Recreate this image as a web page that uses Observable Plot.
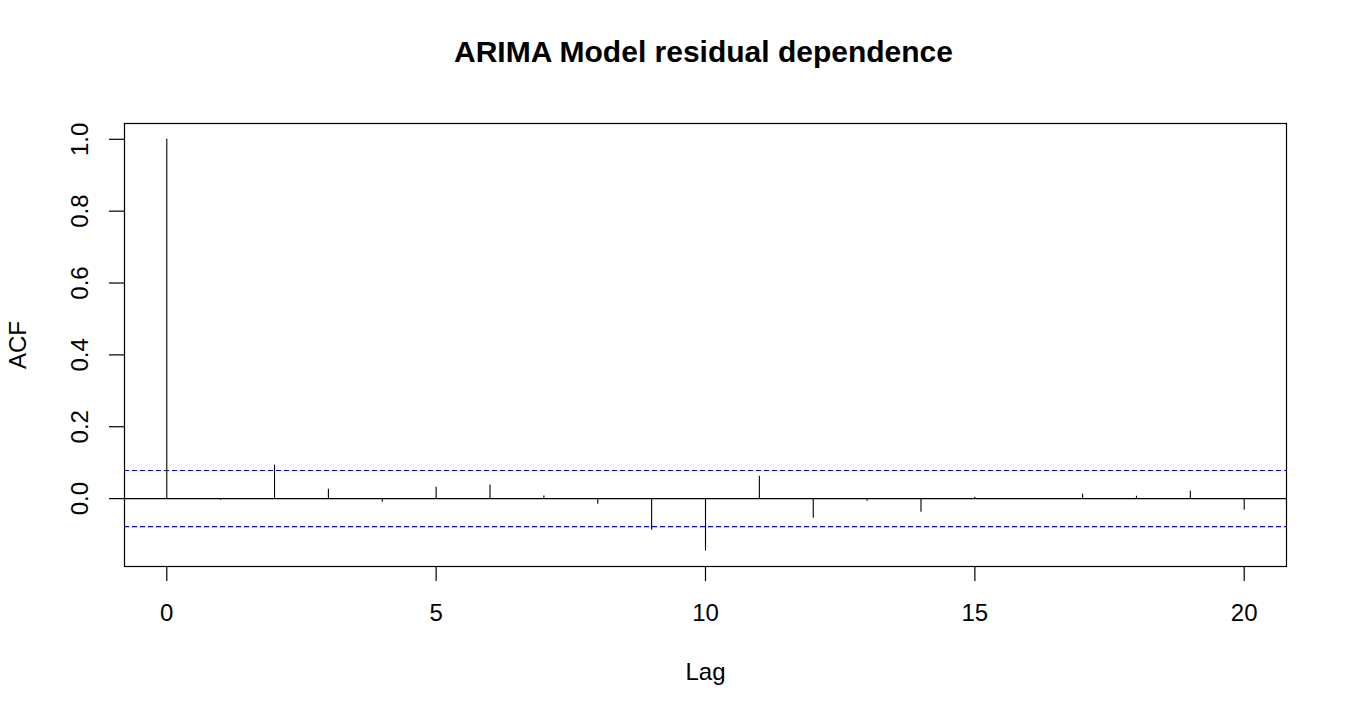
<!DOCTYPE html>
<html>
<head>
<meta charset="utf-8">
<script src="https://cdn.jsdelivr.net/npm/d3@7"></script>
<script src="https://cdn.jsdelivr.net/npm/@observablehq/plot@0.6"></script>
<style>
  html, body { margin: 0; padding: 0; background: #fff; }
  #chart svg { display: block; }
</style>
</head>
<body>
<div id="chart"></div>
<script>
// ---- data ----
const lags = [0, 1, 2, 3, 4, 5, 6, 7, 8, 9, 10, 11, 12, 13, 14, 15, 16, 17, 18, 19, 20];
const acfValues = [1.0, -0.0046, 0.093, 0.026, -0.010, 0.0316, 0.038, 0.0074, -0.016, -0.088, -0.146,
                   0.062, -0.055, -0.0074, -0.038, 0.0037, 0.0005, 0.012, 0.0065, 0.0204, -0.0325];
const ciBounds = [0.078, -0.078];
const xTicks = [0, 5, 10, 15, 20];
const yTicks = [0.0, 0.2, 0.4, 0.6, 0.8, 1.0];
const titleText = "ARIMA Model residual dependence";
const xLabel = "Lag";
const yLabel = "ACF";

const data = lags.map((l, i) => ({lag: l, acf: acfValues[i]}));
const font = "Liberation Sans, Arial, Helvetica, sans-serif";

const chart = Plot.plot({
  width: 1350,
  height: 720,
  marginLeft: 124,
  marginRight: 64,
  marginTop: 123,
  marginBottom: 154,
  style: {fontFamily: font, background: "#fff", color: "black"},
  x: {domain: [-0.785, 20.785]},
  y: {domain: [-0.189, 1.044]},
  marks: [
    Plot.ruleY(ciBounds, {y: d => d, stroke: "#0000ff", strokeWidth: 1.1, strokeDasharray: "5,3"}),
    Plot.ruleY([0], {stroke: "black", strokeWidth: 1.1}),
    Plot.ruleX(data, {x: "lag", y1: 0, y2: "acf", stroke: "black", strokeWidth: 1.1}),
    Plot.frame({stroke: "black", strokeWidth: 1.2}),
    Plot.axisX({ticks: xTicks, tickSize: 15, tickFormat: () => "", label: null, stroke: "black", strokeWidth: 1.2}),
    Plot.axisY({ticks: yTicks, tickSize: 15, tickFormat: () => "", label: null, stroke: "black", strokeWidth: 1.2}),
    Plot.text(xTicks, {x: d => d, frameAnchor: "bottom", dy: 47, lineAnchor: "middle", text: d => String(d), fontSize: 24, fill: "black"}),
    Plot.text(yTicks, {y: d => d, frameAnchor: "left", dx: -44, rotate: -90, lineAnchor: "middle", textAnchor: "middle", text: d => d.toFixed(1), fontSize: 24, fill: "black"}),
    Plot.text([xLabel], {frameAnchor: "bottom", dy: 106, lineAnchor: "middle", text: d => d, fontSize: 24, fill: "black"}),
    Plot.text([yLabel], {frameAnchor: "left", dx: -106, rotate: -90, lineAnchor: "middle", textAnchor: "middle", text: d => d, fontSize: 24, fill: "black"}),
    Plot.text([titleText], {frameAnchor: "top", dy: -71, dx: -2, lineAnchor: "middle", text: d => d, fontSize: 30, fontWeight: "bold", fill: "black"})
  ]
});
document.getElementById("chart").appendChild(chart);
</script>
</body>
</html>
